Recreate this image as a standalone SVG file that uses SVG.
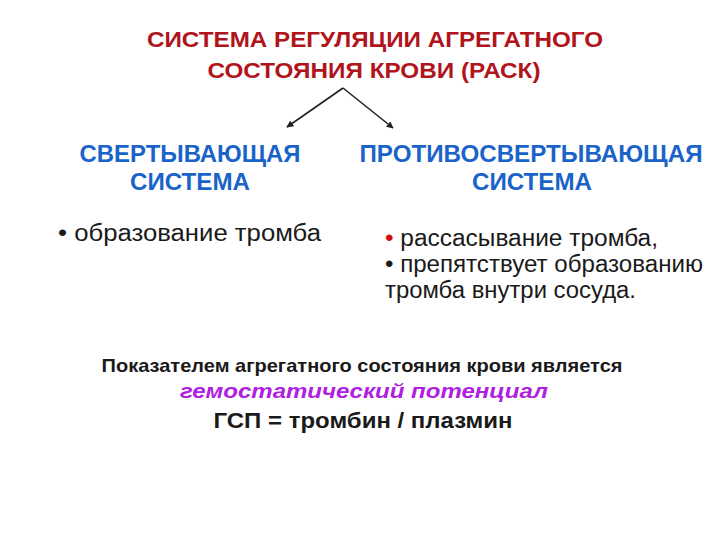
<svg xmlns="http://www.w3.org/2000/svg" width="720" height="540" viewBox="0 0 720 540">
<style>
text{font-family:"Liberation Sans",Arial,sans-serif}
.title{font-size:21.5px;font-weight:bold;fill:#B0141C;text-anchor:middle}
.head{font-size:24px;font-weight:bold;fill:#1A63C8;text-anchor:middle}
.item{font-size:23px;fill:#1a1a1a}
.foot{font-size:18.5px;font-weight:bold;fill:#1a1a1a;text-anchor:middle}
.em{font-size:21px;font-weight:bold;font-style:italic;fill:#B020E0;text-anchor:middle}
.ratio{font-size:22px;font-weight:bold;fill:#1a1a1a;text-anchor:middle}
.conn{stroke:#222;stroke-width:1.6;fill:none;marker-end:url(#ah)}
</style>
<defs>
<marker id="ah" viewBox="0 0 10 10" refX="9" refY="5" markerWidth="7" markerHeight="7" orient="auto" markerUnits="userSpaceOnUse">
<path d="M0,0 L10,5 L0,10 z" fill="#222"/>
</marker>
</defs>
<rect width="720" height="540" fill="#fff"/>
<g id="title">
<text class="title" x="375" y="47" textLength="456" lengthAdjust="spacingAndGlyphs">СИСТЕМА РЕГУЛЯЦИИ АГРЕГАТНОГО</text>
<text class="title" x="374" y="78" textLength="333" lengthAdjust="spacingAndGlyphs">СОСТОЯНИЯ КРОВИ (РАСК)</text>
</g>
<g id="connectors">
<path class="conn" d="M343,88 L287,127"/>
<path class="conn" d="M343,88 L393,128"/>
</g>
<g id="coag">
<text class="head" x="190" y="162" textLength="221" lengthAdjust="spacingAndGlyphs">СВЕРТЫВАЮЩАЯ</text>
<text class="head" x="190" y="190" textLength="120" lengthAdjust="spacingAndGlyphs">СИСТЕМА</text>
<text class="item" x="58" y="241" textLength="263" lengthAdjust="spacingAndGlyphs">• образование тромба</text>
</g>
<g id="anticoag">
<text class="head" x="531" y="162" textLength="343" lengthAdjust="spacingAndGlyphs">ПРОТИВОСВЕРТЫВАЮЩАЯ</text>
<text class="head" x="532" y="190" textLength="120" lengthAdjust="spacingAndGlyphs">СИСТЕМА</text>
<text class="item" x="385" y="246" textLength="273" lengthAdjust="spacingAndGlyphs"><tspan fill="#D01010">•</tspan> рассасывание тромба,</text>
<text class="item" x="385" y="272" textLength="318" lengthAdjust="spacingAndGlyphs">• препятствует образованию</text>
<text class="item" x="385" y="298" textLength="251" lengthAdjust="spacingAndGlyphs">тромба внутри сосуда.</text>
</g>
<g id="index">
<text class="foot" x="362" y="372" textLength="521" lengthAdjust="spacingAndGlyphs">Показателем агрегатного состояния крови является</text>
<text class="em" x="364" y="398" textLength="368" lengthAdjust="spacingAndGlyphs">гемостатический потенциал</text>
<text class="ratio" x="363" y="428" textLength="299" lengthAdjust="spacingAndGlyphs">ГСП = тромбин / плазмин</text>
</g>
</svg>
